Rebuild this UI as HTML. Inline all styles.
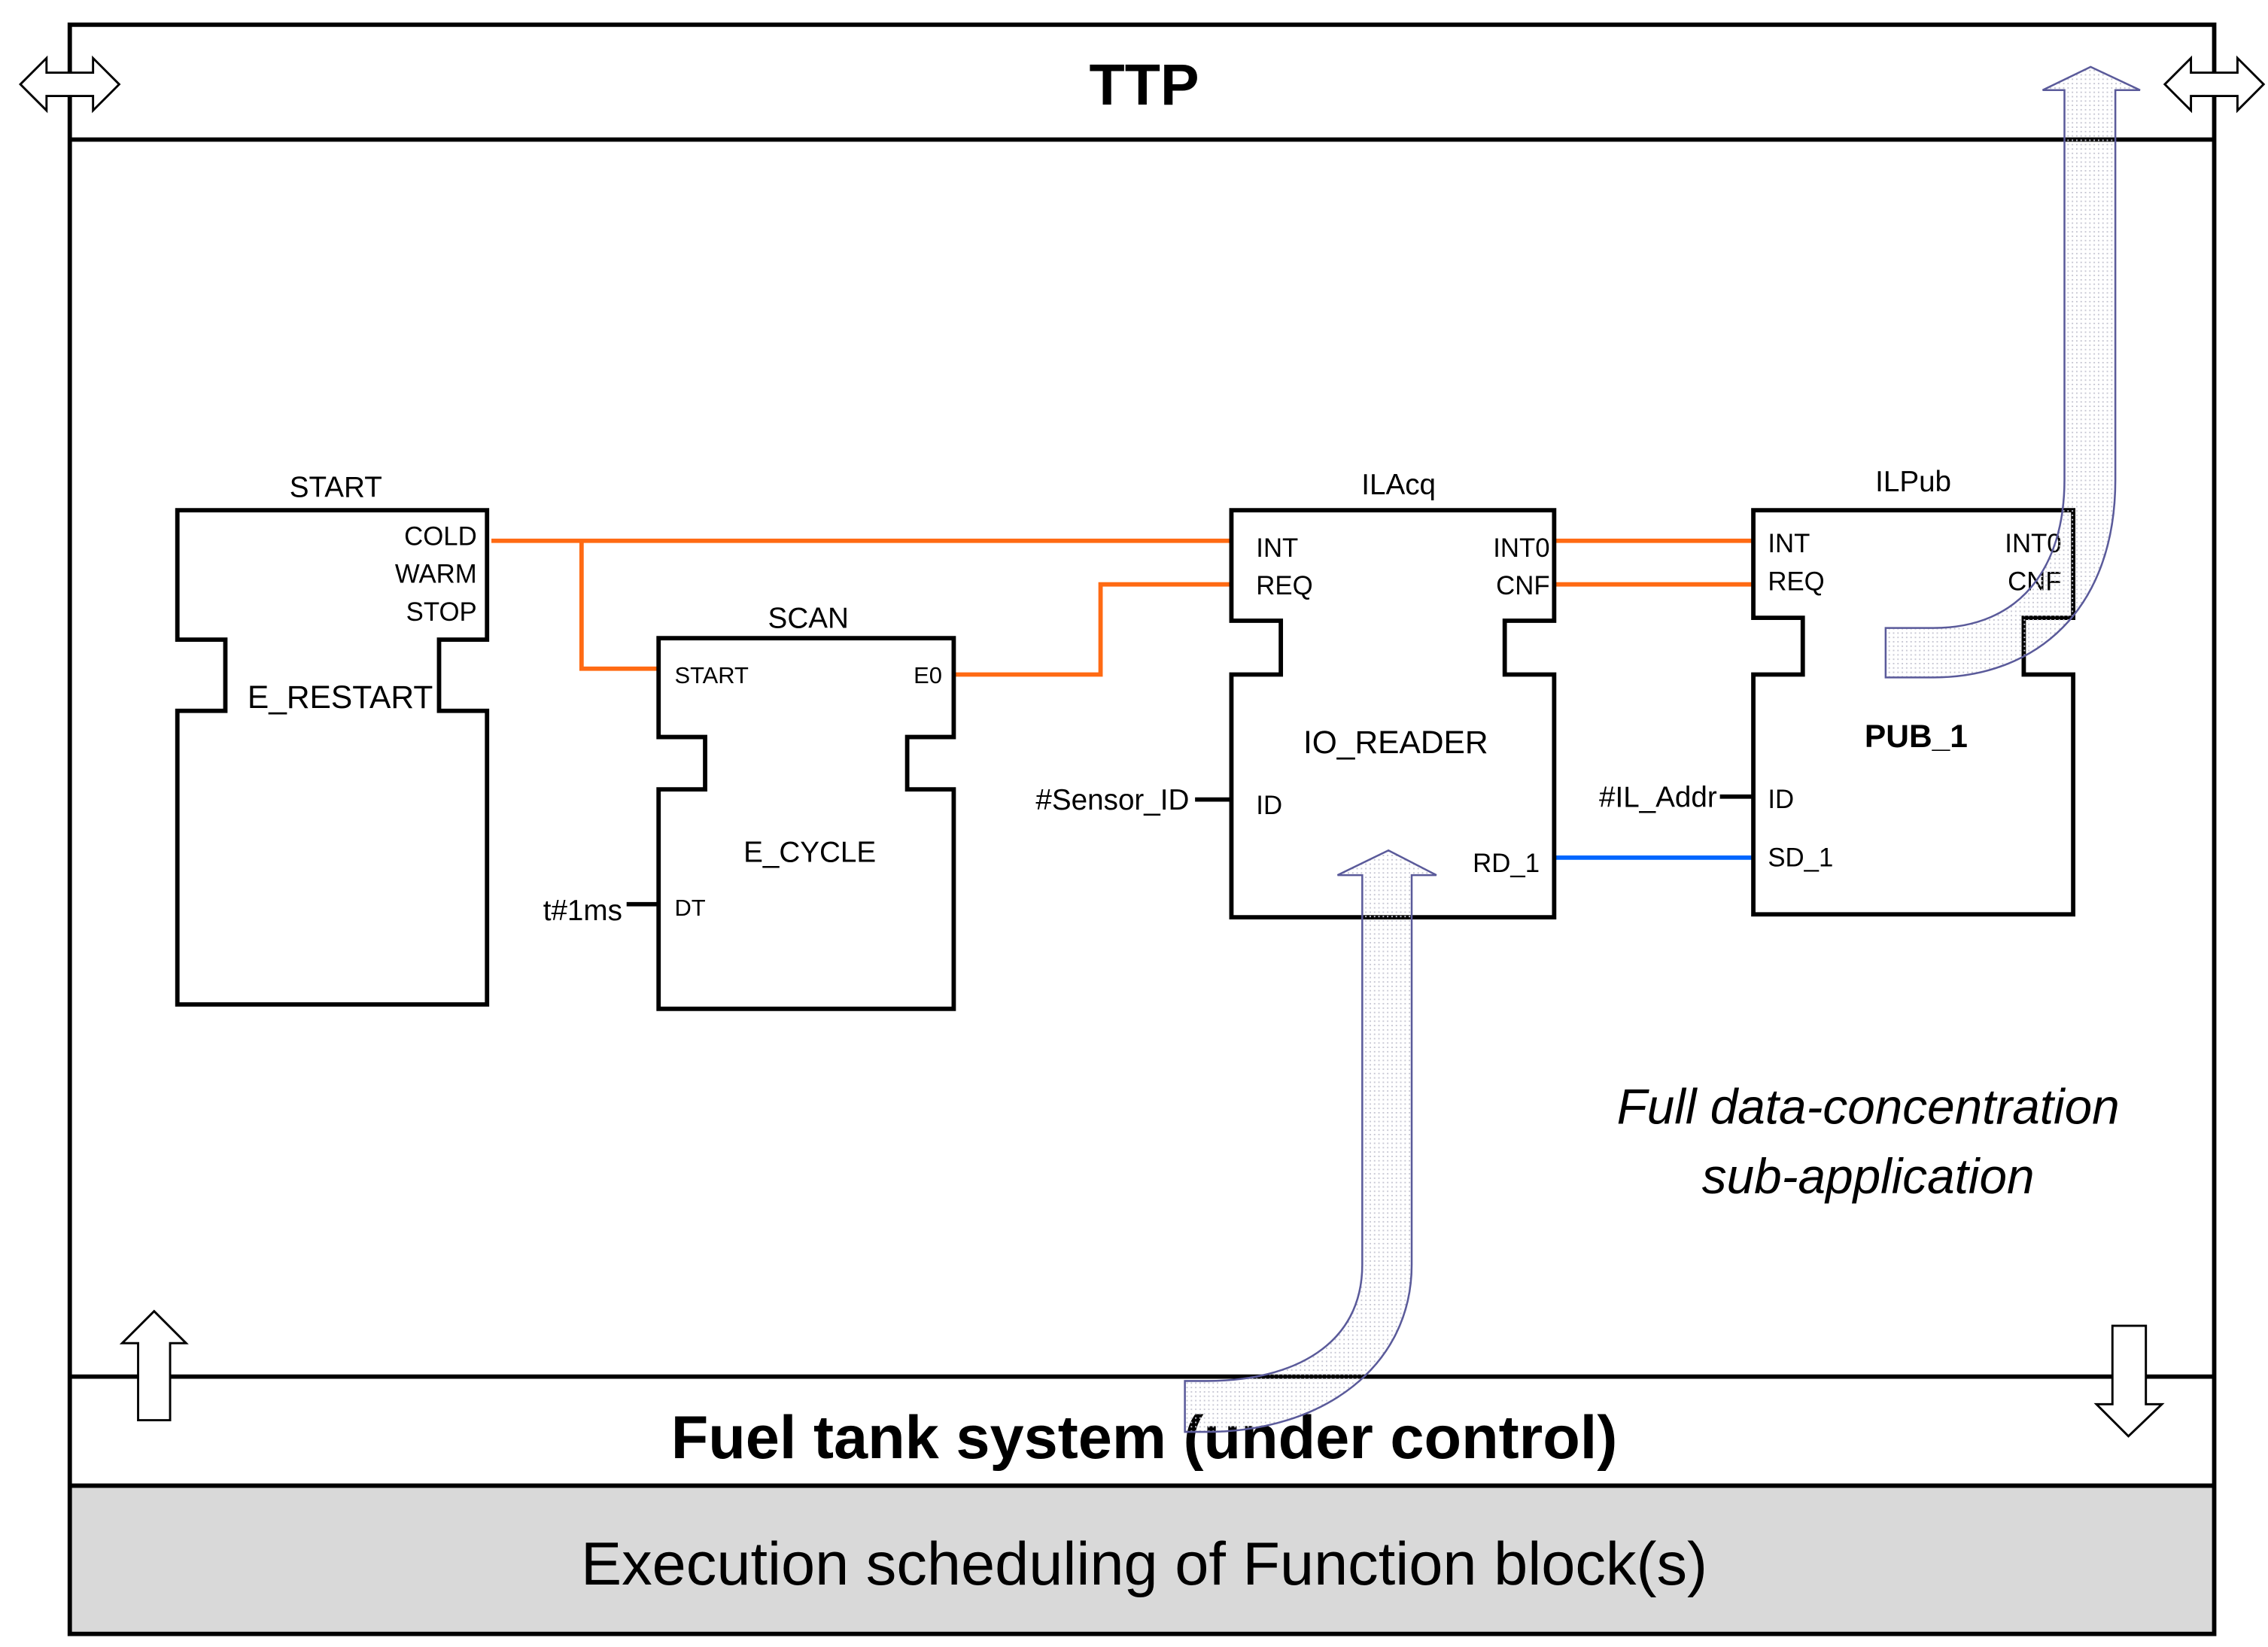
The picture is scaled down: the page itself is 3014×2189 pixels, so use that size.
<!DOCTYPE html>
<html><head><meta charset="utf-8"><style>
html,body{margin:0;padding:0;background:#fff}
svg{display:block}
text{font-family:"Liberation Sans",sans-serif}
</style></head><body>
<svg width="3014" height="2189" viewBox="0 0 1560 1133" preserveAspectRatio="none" xmlns="http://www.w3.org/2000/svg">
<defs>
<pattern id="dots" width="3" height="3" patternUnits="userSpaceOnUse"><rect width="1" height="1" fill="#c8c8d4"/></pattern>
</defs>
<rect x="48" y="1022" width="1475" height="102" fill="#d9d9d9"/>
<rect x="48" y="17" width="1475" height="1107" fill="none" stroke="#000" stroke-width="3"/>
<line x1="48" y1="96" x2="1523" y2="96" stroke="#000" stroke-width="3"/>
<line x1="48" y1="947" x2="1523" y2="947" stroke="#000" stroke-width="3"/>
<line x1="48" y1="1022" x2="1523" y2="1022" stroke="#000" stroke-width="3"/>
<text x="787" y="72" font-size="40" font-weight="bold" text-anchor="middle">TTP</text>
<text x="787" y="1003" font-size="42" font-weight="bold" text-anchor="middle">Fuel tank system (under control)</text>
<text x="787" y="1090" font-size="42" text-anchor="middle">Execution scheduling of Function block(s)</text>
<text x="1285" y="773" font-size="34" font-style="italic" text-anchor="middle">Full data-concentration</text>
<text x="1285" y="821" font-size="34" font-style="italic" text-anchor="middle">sub-application</text>
<g fill="#fff" stroke="#000" stroke-width="1.5">
<path d="M14,58 L32,40 L32,50 L64,50 L64,40 L82,58 L64,76 L64,66 L32,66 L32,76 Z"/>
<path d="M1489,58 L1507,40 L1507,50 L1539,50 L1539,40 L1557,58 L1539,76 L1539,66 L1507,66 L1507,76 Z"/>
<path d="M106,902 L128,924 L117,924 L117,977 L95,977 L95,924 L84,924 Z"/>
<path d="M1464,988 L1487,966 L1476,966 L1476,912 L1453,912 L1453,966 L1442,966 Z"/>
</g>
<g stroke="#ff6a13" stroke-width="3" fill="none">
<polyline points="338,372 847,372"/>
<polyline points="400,372 400,460 453,460"/>
<polyline points="656,464 757,464 757,402 847,402"/>
<line x1="1069" y1="372" x2="1206" y2="372"/>
<line x1="1069" y1="402" x2="1206" y2="402"/>
</g>
<line x1="1069" y1="590" x2="1206" y2="590" stroke="#0066ff" stroke-width="3"/>
<g stroke="#000" stroke-width="3">
<line x1="822" y1="550" x2="847" y2="550"/>
<line x1="1183" y1="548" x2="1206" y2="548"/>
<line x1="431" y1="622" x2="453" y2="622"/>
</g>
<g fill="#fff" stroke="#000" stroke-width="3">
<path d="M122,351 H335 V440 H302 V489 H335 V691 H122 V489 H155 V440 H122 Z"/>
<path d="M453,439 H656 V507 H624 V543 H656 V694 H453 V543 H485 V507 H453 Z"/>
<path d="M847,351 H1069 V427 H1035 V464 H1069 V631 H847 V464 H881 V427 H847 Z"/>
<path d="M1206,351 H1426 V425 H1392 V464 H1426 V629 H1206 V464 H1240 V425 H1206 Z"/>
</g>
<g font-size="18">
<text x="231" y="342" font-size="20" text-anchor="middle">START</text>
<text x="328" y="375" text-anchor="end">COLD</text>
<text x="328" y="401" text-anchor="end">WARM</text>
<text x="328" y="427" text-anchor="end">STOP</text>
<text x="234" y="487" font-size="22" text-anchor="middle">E_RESTART</text>
<text x="556" y="432" font-size="20" text-anchor="middle">SCAN</text>
<text x="464" y="470" font-size="16">START</text>
<text x="648" y="470" font-size="16" text-anchor="end">E0</text>
<text x="557" y="593" font-size="20" text-anchor="middle">E_CYCLE</text>
<text x="464" y="630" font-size="16">DT</text>
<text x="428" y="633" font-size="20" text-anchor="end">t#1ms</text>
<text x="962" y="340" font-size="20" text-anchor="middle">ILAcq</text>
<text x="864" y="383">INT</text>
<text x="864" y="409">REQ</text>
<text x="1066" y="383" text-anchor="end">INT0</text>
<text x="1066" y="409" text-anchor="end">CNF</text>
<text x="960" y="518" font-size="22" text-anchor="middle">IO_READER</text>
<text x="864" y="560">ID</text>
<text x="1059" y="600" text-anchor="end">RD_1</text>
<text x="818" y="557" font-size="20" text-anchor="end">#Sensor_ID</text>
<text x="1316" y="338" font-size="20" text-anchor="middle">ILPub</text>
<text x="1216" y="380">INT</text>
<text x="1216" y="406">REQ</text>
<text x="1418" y="380" text-anchor="end">INT0</text>
<text x="1418" y="406" text-anchor="end">CNF</text>
<text x="1318" y="514" font-size="22" font-weight="bold" text-anchor="middle">PUB_1</text>
<text x="1216" y="556">ID</text>
<text x="1216" y="596">SD_1</text>
<text x="1181" y="555" font-size="20" text-anchor="end">#IL_Addr</text>
</g>
<g fill="url(#dots)" stroke="#5a5a9a" stroke-width="1.3">
<path d="M1297,432 L1330,432 C1390,432 1420,390 1420,330 L1420,62 L1405,62 L1438,46 L1472,62 L1455,62 L1455,330 C1455,420 1400,466 1330,466 L1297,466 Z"/>
<path d="M815,985 L830,985 C910,985 971,940 971,870 L971,602 L988,602 L955,585 L920,602 L937,602 L937,870 C937,925 890,950 830,950 L815,950 Z"/>
</g>
</svg>
</body></html>
